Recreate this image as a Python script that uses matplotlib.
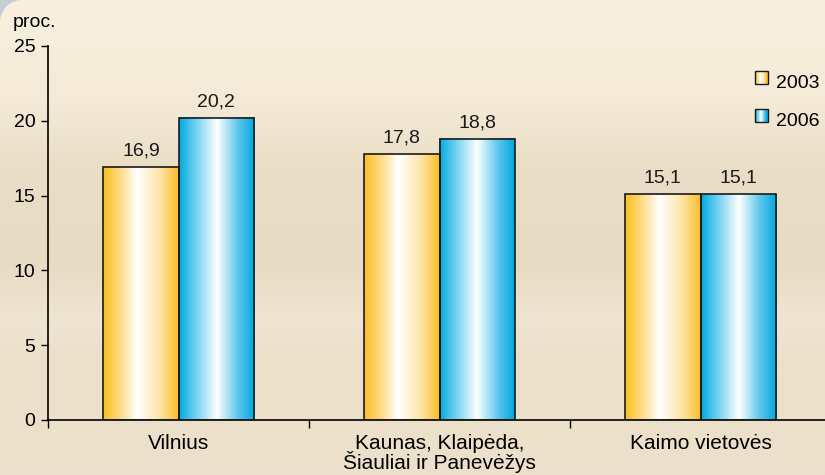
import numpy as np
import matplotlib
matplotlib.use("Agg")
import matplotlib.pyplot as plt
from matplotlib.colors import LinearSegmentedColormap
from matplotlib.patches import Rectangle, PathPatch
from matplotlib.path import Path
from matplotlib.legend_handler import HandlerBase

plt.rcParams['font.family'] = ['Liberation Sans', 'DejaVu Sans']

categories = ["Vilnius", "Kaunas, Klaipėda,\nŠiauliai ir Panevėžys", "Kaimo vietovės"]
years = ["2003", "2006"]
values_2003 = [16.9, 17.8, 15.1]
values_2006 = [20.2, 18.8, 15.1]
y_ticks = [0, 5, 10, 15, 20, 25]

FS = 14

yellow = LinearSegmentedColormap.from_list(
    "yel", [(0, "#fcbf1e"), (0.2, "#fdd77a"), (0.45, "#ffffff"), (0.75, "#fde4a6"), (1, "#fbbd25")])
blue = LinearSegmentedColormap.from_list(
    "blu", [(0, "#00a9e0"), (0.2, "#66cdef"), (0.5, "#ffffff"), (0.78, "#5cc6ec"), (1, "#00a6dc")])
cmaps = [yellow, blue]

fig = plt.figure(figsize=(8.25, 4.75), dpi=100)

# background (blurred landscape look)
bg = fig.add_axes([0, 0, 1, 1], zorder=-10)
rows = np.linspace(0, 1, 200)
stops = [0.0, 0.2, 0.35, 0.55, 0.68, 0.75, 1.0]
cols = np.array([[248, 239, 222], [245, 235, 216], [234, 222, 198], [232, 219, 195],
                 [240, 229, 210], [236, 224, 202], [236, 224, 203]]) / 255.0
img = np.stack([np.interp(rows, stops, cols[:, i]) for i in range(3)], axis=1)
img = np.repeat(img[:, None, :], 10, axis=1)
bg.imshow(img, aspect="auto", extent=[0, 1, 0, 1], origin="upper")
bg.set_xlim(0, 1)
bg.set_ylim(0, 1)
bg.axis("off")

# rounded top-left frame corner
r = 22
theta = np.linspace(np.pi, np.pi / 2, 20)
cx, cy = r, 475 - r
verts = [(0, 475 - r)] + [(cx + r * np.cos(t), cy + r * np.sin(t)) for t in theta] + [(0, 475), (0, 475 - r)]
corner = PathPatch(Path(verts), transform=None, facecolor="#c3ced8", edgecolor="none", zorder=5)
fig.patches.append(corner)

ax = fig.add_axes([48 / 825, 55 / 475, 783 / 825, 374 / 475])
ax.patch.set_alpha(0)

x = np.arange(len(categories))
w = 0.288
grad = np.linspace(0, 1, 256)[None, :]
for k, vals in enumerate([values_2003, values_2006]):
    offs = (k - 0.5) * w
    for xi, v in zip(x, vals):
        left = xi + offs - w / 2
        ax.imshow(grad, cmap=cmaps[k], aspect="auto", extent=[left, left + w, 0, v],
                  interpolation="bilinear", zorder=2)
    ax.bar(x + offs, vals, width=w, fill=False, edgecolor="#1a1a1a", linewidth=1.2, zorder=3)
    for xi, v in zip(x, vals):
        ax.text(xi + offs, v + 0.5, f"{v:.1f}".replace(".", ","), ha="center", va="bottom",
                fontsize=FS, color="#1a1a1a")

ax.set_xlim(-0.5, len(categories) - 0.5)
ax.set_ylim(0, 25)
ax.set_yticks(y_ticks)
ax.set_yticklabels([str(t) for t in y_ticks], fontsize=FS)
ax.set_xticks(np.arange(len(categories) + 1) - 0.5)
ax.set_xticklabels([])
ax.set_xticks(x, minor=True)
ax.set_xticklabels(categories, minor=True, fontsize=15, linespacing=0.92)
ax.tick_params(axis="x", which="minor", length=0, pad=10)
ax.tick_params(axis="x", which="major", length=6, width=1, direction="out")
ax.tick_params(axis="y", length=5, width=1, direction="out", pad=4)
for s in ["top", "right"]:
    ax.spines[s].set_visible(False)
for s in ["left", "bottom"]:
    ax.spines[s].set_linewidth(1.2)
ax.text(-0.045, 1.062, "proc.", transform=ax.transAxes, ha="left", va="center", fontsize=FS)


class GradHandler(HandlerBase):
    def __init__(self, cmap):
        super().__init__()
        self.cmap = cmap

    def create_artists(self, legend, orig, xd, yd, width, height, fontsize, trans):
        s = 13 * 72 / 100
        x0 = xd + width - s
        y0 = yd + (height - s) / 2
        arts = []
        n = 12
        for i in range(n):
            arts.append(Rectangle((x0 + i * s / n, y0), s / n, s, facecolor=self.cmap((i + 0.5) / n),
                                  edgecolor="none", transform=trans))
        arts.append(Rectangle((x0, y0), s, s, fill=False, edgecolor="#1a1a1a", lw=1, transform=trans))
        return arts


h1 = Rectangle((0, 0), 1, 1)
h2 = Rectangle((0, 0), 1, 1)
fig.legend([h1, h2], years, handler_map={h1: GradHandler(yellow), h2: GradHandler(blue)},
           loc="upper left", bbox_to_anchor=(752 / 825, 1 - 73 / 475), frameon=False,
           fontsize=FS, handlelength=0.8, handleheight=1.0, handletextpad=0.45, labelspacing=0.95,
           borderaxespad=0, borderpad=0)

fig.savefig("out.png", dpi=100)
